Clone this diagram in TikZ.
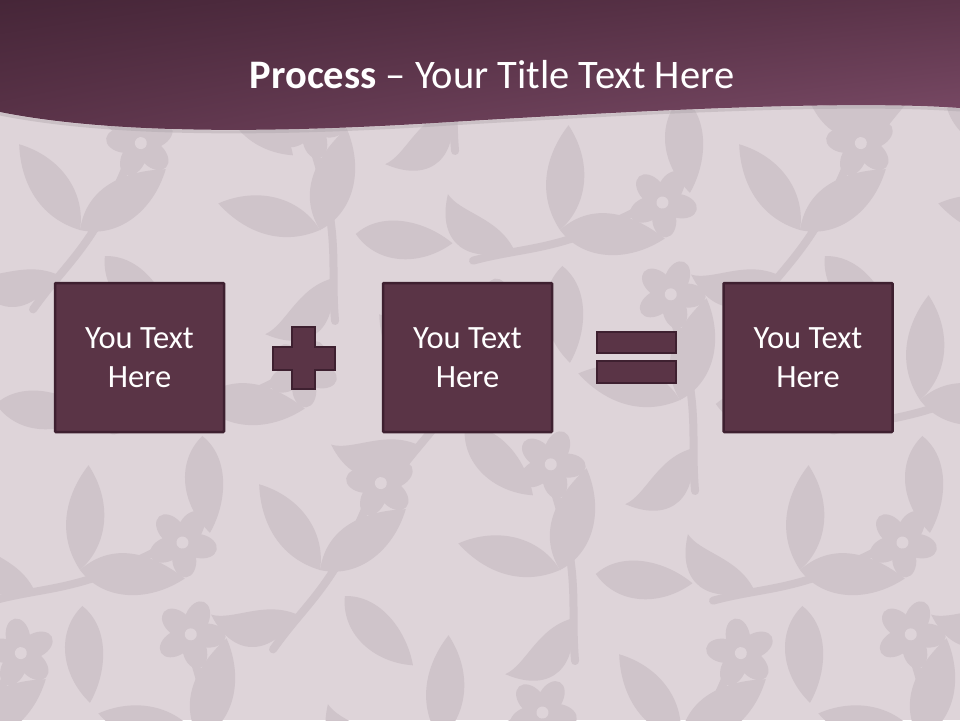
\documentclass[tikz,border=0pt]{standalone}
\usepackage{fontspec}
\setmainfont{Carlito}
\usetikzlibrary{shadings}
\definecolor{bgc}{RGB}{222,212,217}
\definecolor{patc}{RGB}{207,196,202}
\definecolor{boxfill}{RGB}{90,52,70}
\definecolor{boxline}{RGB}{62,32,48}
\definecolor{hdA}{RGB}{70,38,56}
\definecolor{hdB}{RGB}{92,52,74}
\definecolor{hdC}{RGB}{124,76,104}
\tikzset{
  pbox/.style={fill=boxfill, draw=boxline, line width=2.5pt, rounded corners=1pt,
    minimum width=169pt, minimum height=149pt, inner sep=0pt, align=center,
    text=white, font=\fontsize{32.5}{39}\selectfont},
  sym/.style={fill=boxfill, draw=boxline, line width=2.5pt},
  leafpath/.style={fill=patc},
  flora/.pic={
    \draw[patc, line width=8pt, line cap=round] (-60,70) .. controls (-20,30) and (10,20) .. (60,-60);
    \fill[leafpath] (0,0) .. controls (15,-45) and (60,-50) .. (95,-45) .. controls (75,-5) and (35,15) .. (0,0);
    \fill[leafpath] (0,0) .. controls (-40,-20) and (-50,-60) .. (-45,-95) .. controls (-5,-75) and (12,-35) .. (0,0);
    \fill[leafpath] (-30,40) .. controls (-60,20) and (-95,35) .. (-115,25) .. controls (-100,75) and (-60,75) .. (-30,40);
    \fill[leafpath] (20,30) .. controls (55,35) and (75,75) .. (75,110) .. controls (35,100) and (10,65) .. (20,30);
    \foreach \a in {0,72,...,288}
      \fill[leafpath, rotate around={\a:(75,-75)}] (75,-92) ellipse [x radius=12, y radius=18];
    \fill[bgc] (75,-75) circle (6);
  },
}
\begin{document}
\begin{tikzpicture}[x=1pt,y=-1pt]
\useasboundingbox (0,0) rectangle (960,720);
\fill[bgc] (0,0) rectangle (960,720);
% floral background pattern
\foreach \i in {0,1,2,3,4} {
  \foreach \j in {0,1,2,3,4} {
    \pgfmathsetmacro{\px}{\i*240 + mod(\j,2)*120 - 40}
    \pgfmathsetmacro{\py}{\j*170 + 60}
    \pgfmathsetmacro{\rt}{mod(\i+\j,3)*40 - 30}
    \pic[rotate=\rt] at (\px,\py) {flora};
  }
}
% header with wave
\draw[line width=3pt, patc!80!black, opacity=0.35]
  (0,114) .. controls (100,134) and (250,137) .. (450,124) .. controls (650,112) and (850,102) .. (960,110);
\shade[upper left=hdA, upper right=hdB, lower left=hdB, lower right=hdC]
  (0,0) -- (960,0) -- (960,108) .. controls (850,100) and (650,110) .. (450,122)
  .. controls (250,135) and (100,132) .. (0,112) -- cycle;
\node[text=white, font=\fontsize{40.5}{48}\selectfont, anchor=base] (title) at (492,88)
  {\textbf{Process} -- Your Title Text Here};
% boxes
\node[pbox] (b1) at (139.5,357.5) {You Text\\Here};
\node[pbox] (b2) at (467.5,357.5) {You Text\\Here};
\node[pbox] (b3) at (808,357.5) {You Text\\Here};
% plus sign
\draw[sym] (292,327) -- (315,327) -- (315,347) -- (335,347) -- (335,370) -- (315,370)
  -- (315,389) -- (292,389) -- (292,370) -- (273,370) -- (273,347) -- (292,347) -- cycle;
% equals sign
\draw[sym] (597,332) rectangle (676,353);
\draw[sym] (597,361) rectangle (676,383);
\end{tikzpicture}
\end{document}
